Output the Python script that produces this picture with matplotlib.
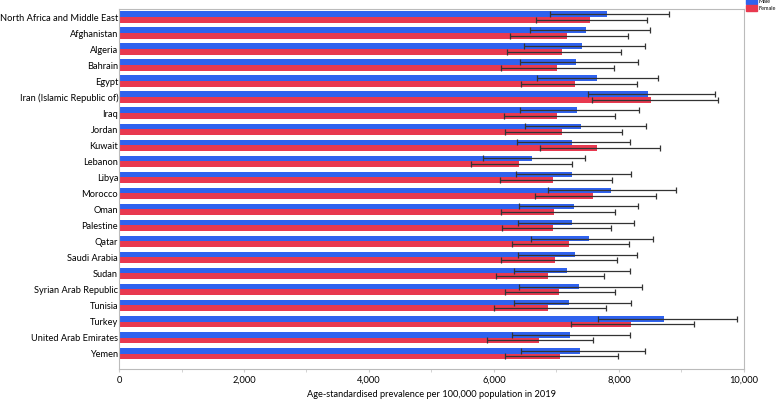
import matplotlib

matplotlib.use("Agg")

import matplotlib.pyplot as plt
import numpy as np
from matplotlib.patches import Patch
from matplotlib.ticker import FuncFormatter, MultipleLocator

plt.rcParams["font.family"] = ["Lato", "DejaVu Sans"]

countries = [
    "North Africa and Middle East", "Afghanistan", "Algeria", "Bahrain", "Egypt",
    "Iran (Islamic Republic of)", "Iraq", "Jordan", "Kuwait", "Lebanon", "Libya",
    "Morocco", "Oman", "Palestine", "Qatar", "Saudi Arabia", "Sudan",
    "Syrian Arab Republic", "Tunisia", "Turkey", "United Arab Emirates", "Yemen",
]

male = [7803, 7467, 7413, 7307, 7643, 8475, 7328, 7392, 7248, 6613, 7253,
        7872, 7285, 7248, 7525, 7291, 7163, 7355, 7195, 8731, 7216, 7381]
male_lo = [6891, 6581, 6485, 6416, 6693, 7499, 6421, 6501, 6373, 5829, 6352,
           6864, 6395, 6389, 6597, 6389, 6315, 6400, 6325, 7664, 6283, 6437]
male_hi = [8805, 8496, 8421, 8309, 8624, 9541, 8325, 8432, 8171, 7461, 8197,
           8912, 8299, 8245, 8555, 8293, 8176, 8368, 8197, 9893, 8181, 8421]

female = [7536, 7163, 7083, 7003, 7301, 8517, 7013, 7088, 7643, 6400, 6944,
          7579, 6955, 6944, 7195, 6971, 6859, 7040, 6864, 8187, 6715, 7051]
female_lo = [6677, 6261, 6213, 6117, 6437, 7573, 6155, 6181, 6736, 5637, 6091,
             6656, 6117, 6128, 6283, 6117, 6027, 6181, 5995, 7227, 5883, 6181]
female_hi = [8459, 8139, 8027, 7920, 8293, 9589, 7931, 8048, 8661, 7243, 7888,
             8592, 7936, 7867, 8165, 7968, 7760, 7941, 7797, 9211, 7589, 7989]

BLUE = "#2f62ee"
RED = "#e8394f"
FS = 6.65


def err(values, lo, hi):
    v = np.asarray(values, dtype=float)
    return [v - np.asarray(lo), np.asarray(hi) - v]


fig = plt.figure(figsize=(7.78, 4.01), dpi=100)
ax = fig.add_axes([0.153, 0.080, 0.803, 0.898])

y = np.arange(len(countries))
h = 0.36
ekw = dict(ecolor="#333333", elinewidth=0.9, capsize=2.0, capthick=0.9)
ax.barh(y - h / 2, male, height=h, color=BLUE, xerr=err(male, male_lo, male_hi),
        error_kw=ekw)
ax.barh(y + h / 2, female, height=h, color=RED,
        xerr=err(female, female_lo, female_hi), error_kw=ekw)

ax.set_ylim(21.96, -0.52)
ax.set_yticks(y)
ax.set_yticklabels(countries, fontsize=FS)
ax.tick_params(axis="y", length=0, pad=0.6)

ax.set_xlim(0, 10000)
ax.xaxis.set_major_locator(MultipleLocator(2000))
ax.xaxis.set_minor_locator(MultipleLocator(1000))
ax.xaxis.set_major_formatter(FuncFormatter(lambda v, _: f"{v:,.0f}"))
ax.tick_params(axis="x", which="both", labelsize=FS, color="#cccccc", length=2, pad=3)
ax.set_xlabel("Age-standardised prevalence per 100,000 population in 2019", fontsize=FS,
              labelpad=4)

for s in ax.spines.values():
    s.set_color("#bbbbbb")
    s.set_linewidth(0.8)

handles = [Patch(color=BLUE, label="Male"), Patch(color=RED, label="Female")]
fig.legend(handles=handles, loc="upper left", bbox_to_anchor=(0.959, 1.004), frameon=False,
           fontsize=4.0, handlelength=1.9, handleheight=1.3, handletextpad=0.3,
           labelspacing=0.05, borderpad=0.0, borderaxespad=0.0)

fig.savefig("out.png", dpi=100)
